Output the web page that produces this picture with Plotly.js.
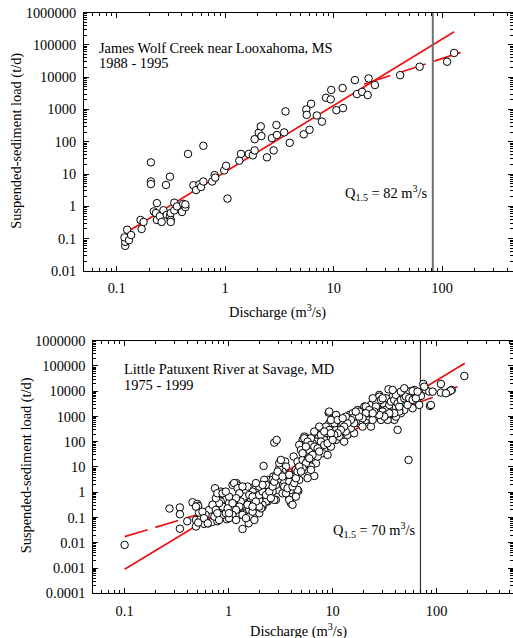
<!DOCTYPE html>
<html><head><meta charset="utf-8">
<script src="https://cdn.plot.ly/plotly-3.0.1.min.js"></script>
<style>html,body{margin:0;padding:0;background:#fff}#chart{width:513px;height:638px}</style>
</head><body><div id="chart"></div>
<script>
// ---------- James Wolf Creek near Looxahoma, MS (1988 - 1995) ----------
const jwQ = [0.12,0.12,0.118,0.125,0.13,0.136,0.166,0.17,0.177,0.207,
0.207,0.207,0.22,0.235,0.23,0.235,0.25,0.26,0.27,0.285,
0.29,0.31,0.31,0.315,0.315,0.315,0.34,0.34,0.36,0.4,
0.41,0.43,0.43,0.455,0.51,0.54,0.58,0.6,0.63,0.63,
0.76,0.8,0.81,0.98,1.02,1.05,1.35,1.4,1.65,1.8,
1.87,1.87,2.04,2.13,2.16,2.43,2.7,2.8,2.97,3.0,
3.5,3.6,3.94,5.3,5.6,5.65,6.0,6.2,7.0,7.8,
8.5,9.4,9.5,10.6,12.1,12.2,15.7,16.4,18.3,20.6,
21,24,41,62,111,129];
const jwL = [0.06,0.08,0.11,0.19,0.09,0.13,0.38,0.2,0.33,23,
5.9,4.9,0.7,1.26,0.62,0.38,0.5,0.33,0.76,4.6,
0.55,8.3,0.5,0.38,0.33,0.62,1.3,0.75,1.0,0.67,
1.2,0.95,1.15,42,4.5,3.2,4.8,4.0,5.9,75,
5.9,9.3,7.8,13,18,1.74,26,42,42,38,
54,120,190,300,150,33,130,54,330,162,
195,870,93,170,1000,680,234,1500,650,420,
2300,2050,4000,950,4600,1100,8100,3000,3500,2800,
9100,5700,11500,21000,30000,56000];
const jwFitQ = [0.134, 129];
const jwFitL = [0.186, 254000];
const jwHighQ = [19, 149];
const jwHighL = [6000, 58600];
const jwQ15 = 82;

// ---------- Little Patuxent River at Savage, MD (1975 - 1999) ----------
const lpQ = [
0.1,0.27,0.34,0.34,0.34,0.4,0.45,0.5,0.51,0.485,
0.485,0.54,0.52,0.58,0.64,0.7,0.78,0.74,0.81,0.84,
0.7,0.65,0.6,0.755,0.81,0.84,0.91,0.96,1.01,0.875,
0.73,1.09,1.19,1.22,1.13,1.19,1.27,1.36,1.56,1.47,
1.58,1.64,1.31,1.36,1.47,1.31,1.7,1.83,1.77,1.9,
2.12,1.97,2.17,2.05,2.2,2.29,2.37,2.46,2.37,2.55,
2.65,2.69,2.75,2.9,2.85,2.96,3.07,3.18,3.18,3.3,
3.5,3.3,3.56,3.83,3.97,4.12,3.97,4.28,4.22,4.44,
4.68,4.78,4.96,4.96,5.15,5.46,5.54,5.75,5.97,6.67,
6.19,6.42,6.92,6.92,7.18,7.45,7.73,8.02,8.32,8.63,
8.95,9.16,9.29,9.64,10,10.8,10.8,11.2,11.6,12.5,
12.9,13.4,13.9,14.5,15,15.6,16.1,16.7,18,18.7,
19.4,20.9,21.7,22.5,23.4,24.3,25.1,26.1,27.1,28.1,
29.2,30.3,31.4,32.6,33.8,34.5,35.1,36.4,37.8,39.2,
40.6,42.2,43.8,45.4,47.1,48.9,50.7,54.6,53.8,56.6,
58.8,61,68.1,70.7,74.5,78.9,84.9,86.3,91.6,110,
110,132,140,185,
5.34,5.54,6.67,7.18,6.92,4.78,4.96,5.75,4.6,5.15,
5.75,6.19,5.34,3.56,3.3,3.69,3.43,3.83,3.97,4.6,
3.83,4.12,3.07,3.18,2.96,2.85,2.65,2.2,2.29,2.65,
2.37,2.46,2.75,2.29,2.12,1.97,1.9,1.83,1.7,1.77,
1.64,1.58,2.05,1.47,1.41,1.31,1.27,1.18,1.09,1.01,
0.94,0.875,0.81,0.755,0.84,0.78,1.13,1.22,0.485,0.56,
0.7,
137,123,76.1,88.3,63.2,54.6,61,28.1,32.6,43.8,
47.1,50.7,43.8,40.6,36.4,32.6,30.3,27.1,23.4,33.8,
24.3,21.7,20.2,18.7,16.7,17.4,15.6,14.5,13.4,15,
13.4,12,10.8,10.4,9.29,9.64,8.63,8.02,8.95,8.32,
7.45,6.92,6.42,6.92,5.97,5.34,6.19,6.67,7.45,8.02,
7.18,6.19,5.54,5.15,5.75,8.95,
52.6,58.8,11.2,7.73,18,20.9,26.1,43.8,15.6,12.5,
0.51,0.58,0.63,0.81,0.875,0.755,0.78,0.98,1.01,1.36,1.58,1.7,1.97,
24.3,26.1,29.2,30.3,32.6,35.1,36.4,39.2,40.6,42.2,
43.8,45.4,48.9,50.7,52.6,54.6,39.2,35.1,31.4,28.1,
25.1,22.5,20.9,19.4,18,16.7,16.1,15,13.9,12.9,
12,11.2,10.4,9.64,9.29,8.32,13.4,12.5,24.3,30.3,
45.4,58.8,63.2,65.6,48.9,37.8,
1.52,1.58,1.7,1.83,1.97,2.12,2.29,2.46,2.55,2.65,
2.75,2.85,2.96,3.07,3.18,3.3,3.43,3.56,3.69,3.83,
4.12,4.28,4.44,4.6,4.78,4.96,4.44,1.97,2.12,1.83,
1.27,1.18,1.09,1.01,0.94,1.36,1.52,1.7,1.18,1.47,1.77,
5.75,6.19,6.67,7.18,7.73,8.32,8.95,9.64,10,7.45,6.42,5.97,5.54,5.15];
const lpL = [
0.0082,0.226,0.25,0.135,0.036,0.071,0.4,0.345,0.29,0.08,
0.044,0.091,0.157,0.056,0.059,0.067,0.071,1.44,0.91,0.83,
0.23,0.2,0.127,0.27,0.17,0.43,0.27,0.085,0.37,0.127,
0.109,1.95,2.3,1.84,0.127,0.109,0.127,0.035,0.059,0.148,
0.2,0.32,0.27,0.5,0.91,1.44,1.44,0.91,0.5,0.32,
0.26,0.148,11,0.67,1.24,2.3,3.1,1.68,0.43,0.91,
2.3,4.2,92,118,0.5,1.24,2.3,5.6,10.4,14.1,
16.4,0.91,1.68,0.58,0.37,0.91,2.3,4.2,26,7.7,
1.13,3.1,16.4,64,118,150,35,10.4,5.6,4.4,
19,47,35,14.1,160,341,75,216,47,137,
186,1420,538,64,293,1150,118,397,160,293,
101,729,186,1150,397,729,216,988,538,1340,
397,729,1810,988,397,2460,4510,988,1560,7120,
729,2860,1810,3330,988,11900,4510,2110,6110,729,
2460,293,3870,1340,6110,1810,9640,3330,19,9640,
2110,6110,2860,6500,19400,11200,9640,2610,9640,19400,
8810,9640,11200,40000,
160,101,186,137,87,75,47,41,16.4,19,
19,10.4,7.7,10.4,6.6,4.2,2.6,2.6,1.24,1.24,
0.5,0.32,8.9,4.9,3.1,1.95,3.1,3.1,1.95,1.06,
0.91,0.58,0.5,0.43,0.32,0.5,0.91,1.44,1.06,0.67,
0.5,0.32,0.23,1.06,0.67,0.43,0.27,0.2,0.127,0.094,
0.148,0.27,0.37,0.58,1.06,0.91,2.3,1.44,0.27,0.17,
0.32,
10600,8280,15200,2860,8280,9640,11200,6110,5250,7120,
4510,3330,1810,988,1340,1810,3330,3330,2860,729,
729,1340,2460,1150,626,1810,1340,849,538,341,
252,397,293,538,1560,729,397,252,216,118,
160,101,87,47,47,137,137,252,397,35,
26,7.7,14.1,8.9,3.6,30,
9640,10100,729,186,1560,2460,3870,1560,849,464,
0.063,0.094,0.059,0.08,0.91,0.2,0.148,0.23,0.148,0.127,0.109,0.17,0.27,
5250,2460,4510,1560,1150,2860,3870,4510,7120,3330,
2460,4510,5250,6110,2860,5250,1340,1340,988,1150,
1560,1810,1340,849,988,1560,538,729,538,397,
293,216,186,137,293,252,988,849,1340,5250,
9640,4510,5250,9640,13100,11200,
1.68,0.78,0.67,0.43,0.78,1.06,0.78,1.06,0.58,1.68,
2.6,4.2,6.6,14.1,19,4.2,1.68,0.91,1.44,4.9,
1.68,2.3,3.6,6.6,10.4,6.6,0.67,1.68,1.95,2.3,
0.91,0.58,0.37,0.67,1.06,1.68,0.32,0.27,0.08,0.094,0.08,
101,75,64,55,101,75,87,216,118,41,30,22,64,35];
const lpLineQ = [0.1, 187];
const lpLineL = [0.00089, 127000];
const lpSegLowQ = [0.1, 0.45];
const lpSegLowL = [0.0174, 0.113];
const lpSegQ = [0.45, 3.07, 5.97, 92];
const lpSegL = [0.113, 1.23, 87, 5800];
const lpSegHighQ = [110, 159];
const lpSegHighL = [8700, 15000];
const lpQ15 = 70;

// ---------- tick labels ----------
const xTickVals = [0.1, 1, 10, 100];
const xTickText = ['0.1', '1', '10', '100'];
const yTickValsTop = [0.01, 0.1, 1, 10, 100, 1000, 10000, 100000, 1000000];
const yTickTextTop = ['0.01','0.1','1','10','100','1000','10000','100000','1000000'];
const yTickValsBot = [0.0001, 0.001, 0.01, 0.1, 1, 10, 100, 1000, 10000, 100000, 1000000];
const yTickTextBot = ['0.0001','0.001','0.01','0.1','1','10','100','1000','10000','100000','1000000'];

function minorTicks(lo, hi) {
  const out = [];
  for (let e = lo; e <= hi; e++) for (let m = 2; m <= 9; m++) out.push(m * Math.pow(10, e));
  return out;
}

const FONT = 'Liberation Serif';
const RED = '#ee1111';

function axis(extra, tv, tt, minorVals) {
  return Object.assign({
    type: 'log', tickmode: 'array', tickvals: tv, ticktext: tt,
    ticks: 'inside', ticklen: 5, tickwidth: 1, tickcolor: '#000',
    mirror: 'allticks', showline: true, linecolor: '#000', linewidth: 1,
    showgrid: false, zeroline: false,
    tickfont: {family: FONT, size: 14.4, color: '#000'},
    minor: {tickmode: 'array', tickvals: minorVals, ticks: 'inside', ticklen: 3,
            tickwidth: 1, tickcolor: '#000', showgrid: false}
  }, extra);
}

const marker = {symbol: 'circle', size: 7.5, color: '#fff', line: {color: '#000', width: 1}};

const traces = [
  {x: jwFitQ, y: jwFitL, xaxis: 'x', yaxis: 'y', mode: 'lines', line: {color: RED, width: 1.7}},
  {x: jwHighQ, y: jwHighL, xaxis: 'x', yaxis: 'y', mode: 'lines', line: {color: RED, width: 1.7, dash: '28px,9px'}},
  {x: [jwQ15, jwQ15], y: [0.01, 1000000], xaxis: 'x', yaxis: 'y', mode: 'lines', line: {color: '#707070', width: 2}},
  {x: jwQ, y: jwL, xaxis: 'x', yaxis: 'y', mode: 'markers', marker: marker, cliponaxis: false},

  {x: lpLineQ, y: lpLineL, xaxis: 'x2', yaxis: 'y2', mode: 'lines', line: {color: RED, width: 1.7}},
  {x: lpSegLowQ, y: lpSegLowL, xaxis: 'x2', yaxis: 'y2', mode: 'lines', line: {color: RED, width: 1.7, dash: '24px,8px'}},
  {x: lpSegQ, y: lpSegL, xaxis: 'x2', yaxis: 'y2', mode: 'lines', line: {color: RED, width: 1.7}},
  {x: lpSegHighQ, y: lpSegHighL, xaxis: 'x2', yaxis: 'y2', mode: 'lines', line: {color: RED, width: 1.7}},
  {x: [lpQ15, lpQ15], y: [0.0001, 1000000], xaxis: 'x2', yaxis: 'y2', mode: 'lines', line: {color: '#333', width: 1.2}},
  {x: lpQ, y: lpL, xaxis: 'x2', yaxis: 'y2', mode: 'markers', marker: marker, cliponaxis: false}
];

const txt = (s, x, y, xa, extra) => Object.assign({
  text: s, x: x, y: y, xref: 'paper', yref: 'paper', xanchor: xa, yanchor: 'middle',
  showarrow: false, font: {family: FONT, size: 14.4, color: '#000'}
}, extra || {});

const layout = {
  width: 513, height: 638,
  margin: {l: 0, r: 0, t: 0, b: 0},
  paper_bgcolor: '#fff', plot_bgcolor: '#fff',
  showlegend: false,
  font: {family: FONT, size: 14.4, color: '#000'},
  xaxis: axis({domain: [0.1637, 1], range: [-1.301, 2.653], anchor: 'y', ticklabelstandoff: 4}, xTickVals, xTickText, minorTicks(-2, 2)),
  yaxis: axis({domain: [0.5752, 0.9804], range: [-2, 6], anchor: 'x', ticklabelstandoff: 4}, yTickValsTop, yTickTextTop, minorTicks(-2, 5)),
  xaxis2: axis({domain: [0.1819, 1], range: [-1.301, 2.735], anchor: 'y2', ticklabelstandoff: 4}, xTickVals, xTickText, minorTicks(-2, 2)),
  yaxis2: axis({domain: [0.0701, 0.466], range: [-4, 6], anchor: 'x2', ticklabelstandoff: 4}, yTickValsBot, yTickTextBot, minorTicks(-4, 5)),
  annotations: [
    txt('James Wolf Creek near Looxahoma, MS', 0.1885, 0.9252, 'left'),
    txt('1988 - 1995', 0.1885, 0.9008, 'left'),
    txt('Q<sub>1.5</sub> = 82 m<sup>3</sup>/s', 0.8382, 0.6975, 'right'),
    txt('Suspended-sediment load (t/d)', 0.0326, 0.779, 'center', {textangle: -90}),
    txt('Discharge (m<sup>3</sup>/s)', 0.54, 0.5114, 'center'),
    txt('Little Patuxent River at Savage, MD', 0.2372, 0.4212, 'left'),
    txt('1975 - 1999', 0.2372, 0.3961, 'left'),
    txt('Q<sub>1.5</sub> = 70 m<sup>3</sup>/s', 0.8148, 0.1693, 'right'),
    txt('Suspended-sediment load (t/d)', 0.0532, 0.2712, 'center', {textangle: -90}),
    txt('Discharge (m<sup>3</sup>/s)', 0.5809, 0.0125, 'center')
  ]
};

Plotly.newPlot('chart', traces, layout, {staticPlot: true, displayModeBar: false});
</script>
</body></html>
